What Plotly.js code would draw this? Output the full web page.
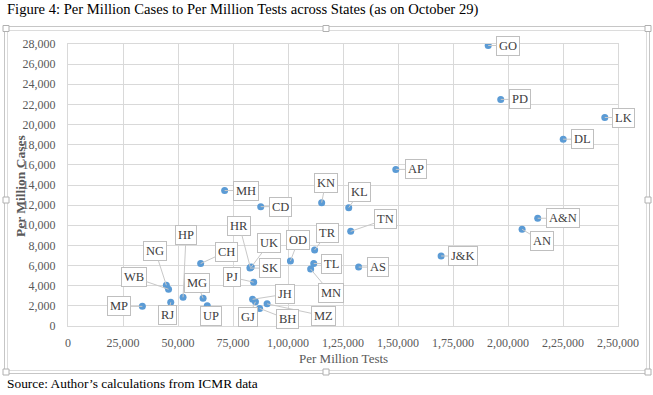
<!DOCTYPE html>
<html>
<head>
<meta charset="utf-8">
<script src="https://cdn.plot.ly/plotly-3.0.1.min.js"></script>
<style>html,body{margin:0;padding:0;background:#fff;}#chart{width:653px;height:395px;}</style>
</head>
<body>
<div id="chart"></div>
<script>
// ---- data ----
const states = ["GO","PD","LK","DL","AP","A&N","AN","J&K","MH","CD","KN","KL","TN","TR","OD","TL","MN","AS","HR","UK","SK","CH","PJ","JH","GJ","MZ","BH","UP","MG","HP","NG","WB","MP","RJ"];
const perMillionTests = [191000,196700,244000,225100,149000,213500,206400,169600,71200,87600,115300,127600,128500,112100,101100,111700,110300,132100,82900,83300,82700,60300,84400,83900,85200,90500,87100,63300,61400,52300,44700,45700,33800,46700];
const perMillionCases = [27850,22500,20700,18550,15550,10700,9600,6950,13450,11850,12250,11750,9400,7550,6450,6200,5650,5850,5800,5850,5750,6200,4350,2650,2400,2200,1750,2000,2750,2850,4050,3650,1950,2350];
const xTickVals = [0,25000,50000,75000,100000,125000,150000,175000,200000,225000,250000];
const xTickText = ["0","25,000","50,000","75,000","1,00,000","1,25,000","1,50,000","1,75,000","2,00,000","2,25,000","2,50,000"];
const yTickVals = [0,2000,4000,6000,8000,10000,12000,14000,16000,18000,20000,22000,24000,26000,28000];
const yTickText = ["0","2,000","4,000","6,000","8,000","10,000","12,000","14,000","16,000","18,000","20,000","22,000","24,000","26,000","28,000"];

// label offsets in pixels (style, not data)
const labelDX = [20,19,19,19,20,25,20,22,21,20,4,11,35,13,8,18,20,19,-11,18,20,26,-22,32,-7,56,28,4,-6,3,-11,-35,-23,-3];
const labelDY = [0,0,0,0,0,0,12,0,0,0,-20,-16,-12,-17,-21,0,24,0,-42,-24,0,-12,-5,-5,15,12,11,10,-15,-62,-34,-12,0,13];

const FONT = 'Liberation Serif, Times New Roman, serif';
const M = {l:68, r:35, t:44, b:69};
const W = 653, H = 395;
const pw = W - M.l - M.r, ph = H - M.t - M.b;
const px = v => (v - M.l) / pw;
const py = v => (H - M.b - v) / ph;

const annotations = states.map((s, i) => ({
  x: perMillionTests[i], y: perMillionCases[i], xref: 'x', yref: 'y',
  text: s.replace('&', '&amp;'),
  showarrow: true, arrowhead: 0, arrowwidth: 1, arrowcolor: '#c8c8c8', standoff: 0,
  ax: labelDX[i], ay: labelDY[i],
  bgcolor: '#ffffff', bordercolor: '#bfbfbf', borderwidth: 1, borderpad: 2,
  font: {family: FONT, size: 12.5, color: '#404040'}
}));
annotations.push({
  xref: 'paper', yref: 'paper', x: px(5), y: py(383), xanchor: 'left', yanchor: 'middle',
  text: 'Source: Author\u2019s calculations from ICMR data', showarrow: false,
  font: {family: FONT, size: 13.4, color: '#000'}
});
annotations.push({
  xref: 'paper', yref: 'paper', x: px(5), y: py(9.5), xanchor: 'left', yanchor: 'middle',
  text: 'Figure 4: Per Million Cases to Per Million Tests across States (as on October 29)', showarrow: false,
  font: {family: FONT, size: 14.6, color: '#000'}
});
annotations.push({
  xref: 'paper', yref: 'paper', x: 0.5, y: py(358), xanchor: 'center', yanchor: 'middle',
  text: 'Per Million Tests', showarrow: false,
  font: {family: FONT, size: 13, color: '#595959'}
});
annotations.push({
  xref: 'paper', yref: 'paper', x: px(20), y: py(186), xanchor: 'center', yanchor: 'middle',
  text: '<b>Per Million Cases</b>', showarrow: false, textangle: -90,
  font: {family: FONT, size: 13.5, color: '#595959'}
});

// frame and handles
const shapes = [];
const rect = (x0, y0, x1, y1, col) => shapes.push({type: 'rect', xref: 'paper', yref: 'paper',
  x0: px(x0), x1: px(x1), y0: py(y0), y1: py(y1), line: {color: col, width: 1}, fillcolor: 'rgba(0,0,0,0)', layer: 'below'});
rect(4.5, 26.5, 649.5, 373.5, '#c6c6c6');
rect(7.5, 30.5, 646.5, 370.5, '#dcdcdc');
const hs = [[6,28.5],[326,28.5],[648,28.5],[6,200],[648,200],[6,372],[326,372],[648,372]];
hs.forEach(([hx, hy]) => shapes.push({type: 'rect', xref: 'paper', yref: 'paper',
  x0: px(hx - 3), x1: px(hx + 3), y0: py(hy - 3), y1: py(hy + 3),
  line: {color: '#b0b0b0', width: 1}, fillcolor: '#ffffff', layer: 'above'}));

const trace = {
  type: 'scatter', mode: 'markers',
  x: perMillionTests, y: perMillionCases,
  marker: {color: '#5b9bd5', size: 7},
  hoverinfo: 'skip'
};

const layout = {
  width: W, height: H, margin: M,
  paper_bgcolor: '#fff', plot_bgcolor: '#fff',
  showlegend: false,
  xaxis: {
    range: [0, 250000], tickvals: xTickVals, ticktext: xTickText,
    showgrid: true, gridcolor: '#d9d9d9', gridwidth: 1, zeroline: false,
    showline: true, linecolor: '#d9d9d9', mirror: true, ticks: '', ticklabelstandoff: 6,
    tickfont: {family: FONT, size: 12, color: '#595959'},
    fixedrange: true
  },
  yaxis: {
    range: [0, 28000], tickvals: yTickVals, ticktext: yTickText,
    showgrid: true, gridcolor: '#d9d9d9', gridwidth: 1, zeroline: false,
    showline: true, linecolor: '#d9d9d9', mirror: true, ticks: '', ticklabelstandoff: 9,
    tickfont: {family: FONT, size: 12, color: '#595959'},
    fixedrange: true
  },
  annotations: annotations,
  shapes: shapes
};

Plotly.newPlot('chart', [trace], layout, {displayModeBar: false, staticPlot: true});
</script>
</body>
</html>
